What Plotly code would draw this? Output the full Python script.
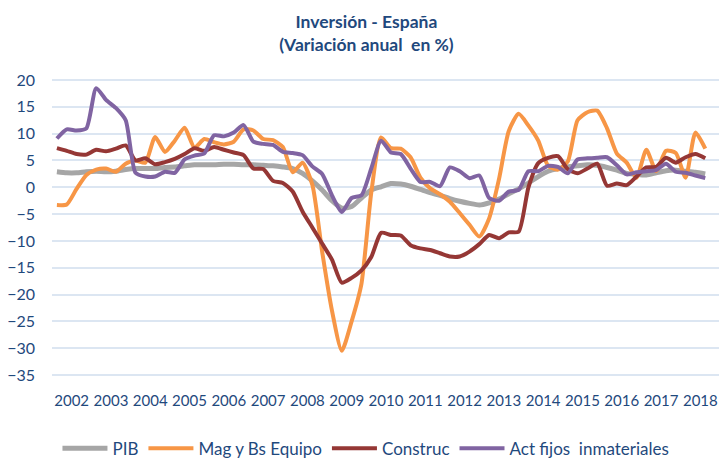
import plotly.graph_objects as go

years = list(range(2002, 2019))
quarters = [2002 + (i + 0.5) / 4 for i in range(67)]

pib = [2.9, 2.7, 2.7, 2.9, 3.0, 2.9, 3.0, 3.3, 3.5, 3.5, 3.5, 3.7, 3.8, 4.0, 4.2, 4.2,
       4.2, 4.3, 4.3, 4.2, 4.2, 4.1, 4.0, 3.8, 3.5, 2.6, 1.2, -0.5, -2.5, -3.9, -3.6, -2.0,
       -0.5, 0.1, 0.7, 0.6, 0.2, -0.4, -1.0, -1.5, -2.1, -2.6, -3.0, -3.3, -2.9, -2.2, -1.2,
       -0.3, 0.8, 2.0, 3.0, 3.5, 3.8, 4.0, 4.2, 4.1, 3.7, 3.2, 2.6, 2.4, 2.3, 2.7, 3.1, 3.2,
       3.0, 2.8, 2.5]

maq = [-3.3, -3.2, -0.3, 2.3, 3.3, 3.5, 2.9, 4.4, 5.0, 4.6, 9.4, 6.6, 8.7, 11.1, 7.4, 9.0,
       8.4, 8.0, 8.5, 10.8, 10.6, 9.0, 8.8, 7.5, 2.8, 4.6, 0.5, -12.0, -23.0, -30.5, -25.0, -18.0,
       -1.0, 9.3, 7.3, 7.2, 5.6, 1.8, -0.2, -1.3, -2.7, -4.8, -7.0, -9.2, -5.8, 1.5, 10.5,
       13.7, 11.5, 8.7, 4.0, 3.3, 4.8, 12.5, 14.0, 14.3, 11.0, 6.3, 4.6, 1.8, 7.0, 3.0, 6.8,
       6.4, 1.8, 10.2, 7.2]

construc = [7.3, 6.8, 6.2, 6.1, 7.0, 6.7, 7.2, 7.8, 5.0, 5.4, 4.3, 4.7, 5.3, 6.2, 7.3, 6.8,
            7.5, 7.0, 6.5, 6.0, 3.5, 3.4, 1.2, 0.8, -0.8, -4.5, -7.5, -10.5, -13.5, -17.8, -16.9,
            -15.5, -13.0, -8.5, -8.9, -9.0, -10.8, -11.4, -11.7, -12.3, -12.9, -12.9, -12.0,
            -10.6, -8.9, -9.5, -8.4, -8.3, 0.0, 4.5, 5.5, 5.8, 3.4, 2.6, 3.5, 4.4, 0.3, 0.7,
            0.4, 2.0, 3.7, 3.8, 5.5, 4.6, 5.6, 6.2, 5.4]

act = [9.1, 10.8, 10.6, 11.0, 18.5, 16.3, 14.8, 12.5, 2.7, 2.0, 2.0, 2.9, 2.7, 5.2, 5.9, 6.3,
       9.7, 9.5, 10.2, 11.6, 8.5, 8.1, 7.9, 6.6, 6.4, 6.0, 3.9, 2.5, -1.5, -4.6, -2.0, -1.5,
       3.5, 8.7, 6.5, 6.2, 3.5, 1.0, 1.0, 0.2, 3.7, 3.0, 1.7, 2.2, -2.0, -2.5, -0.8, -0.5,
       3.0, 3.0, 4.0, 3.8, 2.6, 5.2, 5.4, 5.5, 5.6, 4.1, 2.4, 2.8, 3.0, 3.2, 4.4, 2.9, 2.7,
       2.2, 1.7]

names = ["PIB", "Mag y Bs Equipo", "Construc", "Act fijos  inmateriales"]
colors = ["#A6A6A6", "#F79646", "#953735", "#8064A2"]
series = [pib, maq, construc, act]

font_family = "Lato, 'Open Sans', sans-serif"
text_color = "#1F497D"
grid_color = "#DCE6F2"

fig = go.Figure()
for name, vals, col in zip(names, series, colors):
    fig.add_trace(go.Scatter(
        x=quarters, y=vals, name=name, mode="lines",
        line=dict(color=col, width=5 if name == "PIB" else 4, shape="spline", smoothing=0.6),
        hoverinfo="skip",
    ))

fig.update_layout(
    width=727, height=460,
    margin=dict(l=44, r=15, t=71, b=92, autoexpand=False),
    paper_bgcolor="white", plot_bgcolor="white",
    font=dict(family=font_family, color=text_color, size=15),
    title=dict(
        text="<b>Inversión - España</b><br><b>(Variación anual  en %)</b>",
        x=0.493, xanchor="center", y=0.9565, yanchor="top",
        font=dict(size=17.5, color=text_color, family=font_family),
    ),
    showlegend=True,
    legend=dict(
        orientation="h", x=0.47, xanchor="center", y=-0.245, yanchor="middle",
        font=dict(size=17, color=text_color, family=font_family),
        itemwidth=45, tracegroupgap=0,
        bgcolor="rgba(0,0,0,0)",
    ),
    xaxis=dict(
        range=[2002, 2019], showgrid=False, zeroline=False, showline=False,
        tickmode="array", tickvals=[y + 0.5 for y in years], ticktext=[str(y) for y in years],
        ticks="", ticklabelstandoff=14,
        tickfont=dict(size=15, color=text_color, family=font_family),
    ),
    xaxis2=dict(
        range=[2002, 2019], overlaying="x", anchor="free", position=35.2 / 55.4,
        showgrid=False, zeroline=False, showline=True, linecolor="#C6D9F1", linewidth=3,
        tickmode="array", tickvals=years + [2019], ticks="outside", ticklen=5, tickwidth=3,
        tickcolor="#C6D9F1", showticklabels=False, side="bottom",
    ),
    yaxis=dict(
        range=[-35.2, 20.2], tickmode="array", tickvals=list(range(-35, 21, 5)),
        showgrid=True, gridcolor=grid_color, gridwidth=1.5, zeroline=False,
        showline=False, ticks="", ticklabelstandoff=16,
        tickfont=dict(size=16, color=text_color, family=font_family),
    ),
)

fig.write_html("out.html")
